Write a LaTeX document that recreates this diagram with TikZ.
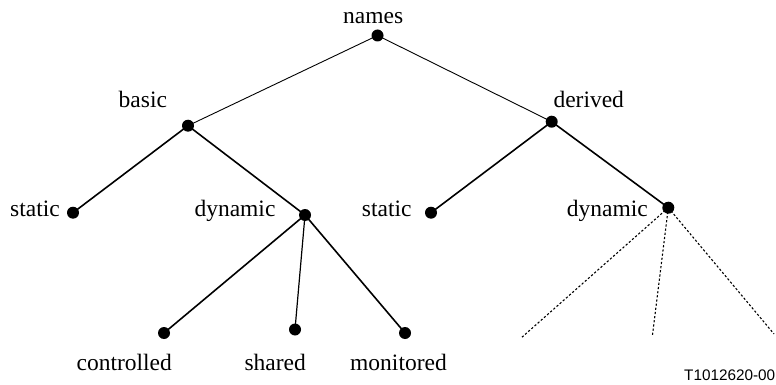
\documentclass[tikz,border=0pt]{standalone}
\usepackage{fontspec}
\setmainfont{Liberation Serif}
\newfontfamily\tagfont{Liberation Sans}
\begin{document}
\begin{tikzpicture}[x=1pt,y=-1pt,
  dot/.style={circle,fill=black,inner sep=0pt,minimum size=12pt},
  lbl/.style={anchor=base west,inner sep=0pt,font=\fontsize{23.5}{28}\selectfont},
  thinedge/.style={line width=0.9pt},
  edge/.style={line width=1.6pt},
  dotedge/.style={line width=1.1pt,dash pattern=on 2.2pt off 2pt}]
\useasboundingbox (0,0) rectangle (776,385);
% dots
\node[dot] (names) at (377.5,35.5) {};
\node[dot] (basic) at (188,125.7) {};
\node[dot] (derived) at (551.7,121.7) {};
\node[dot] (bstatic) at (73,212.7) {};
\node[dot] (bdyn) at (305,215) {};
\node[dot] (dstatic) at (431,212.7) {};
\node[dot] (ddyn) at (668.3,207.7) {};
\node[dot] (ctrl) at (164,333) {};
\node[dot] (shared) at (295,329.5) {};
\node[dot] (mon) at (405,333) {};
\coordinate (e1) at (520.7,338.3);
\coordinate (e2) at (652.3,336.5);
\coordinate (e3) at (774,334);
% labels
\node[lbl] (lnames) at (343,23.3) {names};
\node[lbl] (lbasic) at (118.5,107.7) {basic};
\node[lbl] (lderived) at (553.3,107.7) {derived};
\node[lbl] (lbstatic) at (10,216) {static};
\node[lbl] (lbdyn) at (194.3,216) {dynamic};
\node[lbl] (ldstatic) at (361.7,216) {static};
\node[lbl] (lddyn) at (566.7,216.5) {dynamic};
\node[lbl] (lctrl) at (76.4,370) {controlled};
\node[lbl] (lshared) at (244.3,370) {shared};
\node[lbl] (lmon) at (350,370) {monitored};
\node[anchor=base west,inner sep=0pt,font=\tagfont\fontsize{15.3}{18}\selectfont] (tag) at (684,380) {T1012620-00};
% edges
\draw[thinedge] (names.center) -- (basic.center);
\draw[thinedge] (names.center) -- (derived.center);
\draw[edge] (basic.center) -- (bstatic.center);
\draw[edge] (basic.center) -- (bdyn.center);
\draw[edge] (derived.center) -- (dstatic.center);
\draw[edge] (derived.center) -- (ddyn.center);
\draw[edge] (bdyn.center) -- (ctrl.center);
\draw[line width=1.2pt] (bdyn.center) -- (shared.center);
\draw[edge] (bdyn.center) -- (mon.center);
\draw[dotedge] (ddyn.center) -- (e1);
\draw[dotedge] (ddyn.center) -- (e2);
\draw[dotedge] (ddyn.center) -- (e3);
\end{tikzpicture}
\end{document}
